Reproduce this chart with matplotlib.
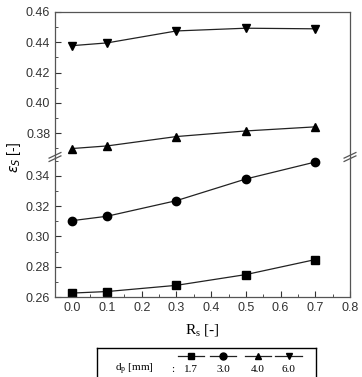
import matplotlib
matplotlib.use('Agg')
import matplotlib.pyplot as plt
from matplotlib.ticker import MultipleLocator

plt.rcParams['font.family'] = 'Liberation Sans'

# data
rs = [0.0, 0.1, 0.3, 0.5, 0.7]
eps_17 = [0.2626, 0.2636, 0.2677, 0.2748, 0.2847]
eps_30 = [0.3104, 0.3133, 0.3236, 0.3379, 0.3491]
eps_40 = [0.3699, 0.3716, 0.3778, 0.3815, 0.3842]
eps_60 = [0.4378, 0.4396, 0.4475, 0.4493, 0.4489]
dp_labels = ['1.7', '3.0', '4.0', '6.0']
markers = ['s', 'o', '^', 'v']
series = [eps_17, eps_30, eps_40, eps_60]

W, H = 362, 377
fig = plt.figure(figsize=(W / 100, H / 100), dpi=100)

left, right = 55 / W, 350 / W
ax_top = fig.add_axes([left, 1 - 157 / H, right - left, 145 / H])
ax_bot = fig.add_axes([left, 1 - 297 / H, right - left, 140 / H])

line_kw = dict(color='#222222', linewidth=0.9, markersize=6,
               markerfacecolor='black', markeredgecolor='black')
for ax in (ax_top, ax_bot):
    for y, m in zip(series, markers):
        ax.plot(rs, y, marker=m, **line_kw)
    ax.set_xlim(-0.05, 0.8)
    ax.xaxis.set_major_locator(MultipleLocator(0.1))
    ax.xaxis.set_minor_locator(MultipleLocator(0.05))
    ax.yaxis.set_major_locator(MultipleLocator(0.02))
    ax.yaxis.set_minor_locator(MultipleLocator(0.01))
    ax.tick_params(which='both', direction='in', labelsize=9,
                   top=False, right=False, colors='#333333')
    ax.tick_params(which='major', length=4)
    ax.tick_params(which='minor', length=2)
    for s in ax.spines.values():
        s.set_color('#555555')
        s.set_linewidth(0.9)

ax_top.set_ylim(0.3643, 0.46)
ax_bot.set_ylim(0.26, 0.3524)
ax_top.spines['bottom'].set_visible(False)
ax_bot.spines['top'].set_visible(False)
ax_top.tick_params(axis='x', which='both', bottom=False, labelbottom=False)
ax_top.yaxis.set_major_formatter(lambda v, p: f'{v:.2f}')
ax_bot.yaxis.set_major_formatter(lambda v, p: f'{v:.2f}')
ax_bot.xaxis.set_major_formatter(lambda v, p: f'{v:.1f}')

# break marks on both spines
for xb in (0.0, 1.0):
    for dy in (-0.012, 0.012):
        ax_bot.plot([xb - 0.02, xb + 0.02], [1.0 + dy - 0.02, 1.0 + dy + 0.02],
                    transform=ax_bot.transAxes, color='#555555', lw=0.9,
                    clip_on=False)

ax_bot.set_xlabel(r'R$_\mathregular{s}$ [-]', family='Liberation Serif',
                  fontsize=11, labelpad=6)
fig.text(14 / W, 1 - 157 / H, r'$\varepsilon_S$ [-]', rotation=90,
         ha='center', va='center', fontsize=10)

# legend box (extends past the bottom edge, as in the reference)
lax = fig.add_axes([97 / W, -19 / H, (316 - 97) / W, 48 / H])
lax.set_xlim(0, 1)
lax.set_ylim(0, 1)
lax.set_xticks([])
lax.set_yticks([])
for s in lax.spines.values():
    s.set_linewidth(1.0)
lab_x = [0.43, 0.575, 0.735, 0.875]
for lx, m, lab in zip(lab_x, markers, dp_labels):
    lax.plot([lx - 0.06, lx + 0.06], [0.83, 0.83], color='#222222', lw=0.9)
    lax.plot([lx], [0.83], marker=m, markersize=5, color='black')
    lax.text(lx, 0.55, lab, ha='center', va='center', fontsize=8,
             family='Liberation Serif')
lax.text(0.08, 0.55, r'd$_\mathregular{p}$ [mm]', ha='left', va='center',
         fontsize=8, family='Liberation Serif')
lax.text(0.345, 0.55, ':', ha='center', va='center', fontsize=8,
         family='Liberation Serif')

fig.savefig('out.png', dpi=100)
